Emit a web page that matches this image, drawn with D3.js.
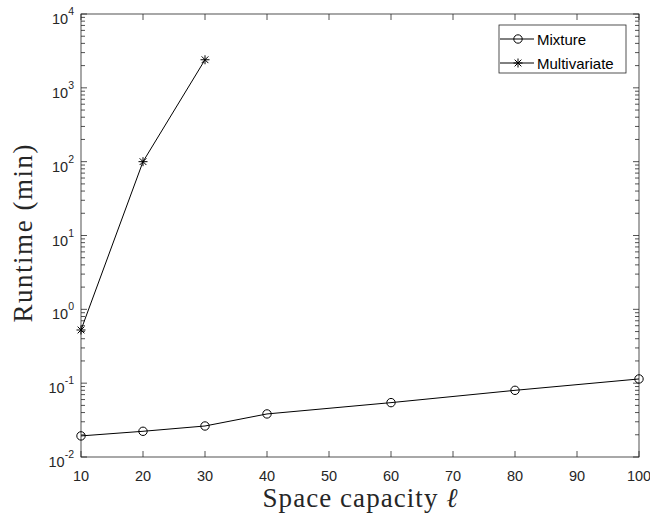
<!DOCTYPE html>
<html>
<head>
<meta charset="utf-8">
<script src="https://cdn.jsdelivr.net/npm/d3@7"></script>
<style>
  body { margin: 0; background: #fff; }
  svg { display: block; }
</style>
</head>
<body>
<div id="chart"></div>
<script>
// values
const capMixture = [10, 20, 30, 40, 60, 80, 100];
const runMixture = [0.0193, 0.0223, 0.0263, 0.0383, 0.0545, 0.080, 0.114];
const capMulti = [10, 20, 30];
const runMulti = [0.525, 100, 2400];
const xTicks = [10, 20, 30, 40, 50, 60, 70, 80, 90, 100];
const yExps = [-2, -1, 0, 1, 2, 3, 4];

const W = 650, H = 513;
const m = { left: 81, right: 11, top: 14, bottom: 56 };
const iw = W - m.left - m.right, ih = H - m.top - m.bottom;
const axisCol = '#262626';

const svg = d3.select('#chart').append('svg')
  .attr('width', W).attr('height', H);
const g = svg.append('g').attr('transform', `translate(${m.left},${m.top})`);

const x = d3.scaleLinear().domain([10, 100]).range([0, iw]);
const y = d3.scaleLog().domain([1e-2, 1e4]).range([ih, 0]);

// minor log ticks
const minor = [];
yExps.slice(0, -1).forEach(e => {
  for (let k = 2; k <= 9; k++) minor.push(k * Math.pow(10, e));
});

// ticks, inward on all four sides
const tk = g.append('g').attr('stroke', axisCol).attr('stroke-width', 0.8);
xTicks.forEach(t => {
  tk.append('line').attr('x1', x(t)).attr('x2', x(t)).attr('y1', ih).attr('y2', ih - 6);
  tk.append('line').attr('x1', x(t)).attr('x2', x(t)).attr('y1', 0).attr('y2', 6);
});
yExps.forEach(e => {
  const yy = y(Math.pow(10, e));
  tk.append('line').attr('x1', 0).attr('x2', 6).attr('y1', yy).attr('y2', yy);
  tk.append('line').attr('x1', iw).attr('x2', iw - 6).attr('y1', yy).attr('y2', yy);
});
minor.forEach(v => {
  const yy = y(v);
  tk.append('line').attr('x1', 0).attr('x2', 4).attr('y1', yy).attr('y2', yy);
  tk.append('line').attr('x1', iw).attr('x2', iw - 4).attr('y1', yy).attr('y2', yy);
});

// box
g.append('rect').attr('width', iw).attr('height', ih)
  .attr('fill', 'none').attr('stroke', axisCol).attr('stroke-width', 0.8);

// tick labels
const font = 'Liberation Sans, Arial, Helvetica, sans-serif';
g.selectAll('.xl').data(xTicks).join('text')
  .attr('x', d => x(d)).attr('y', ih + 24)
  .attr('text-anchor', 'middle').attr('font-family', font).attr('font-size', 14.5)
  .attr('fill', axisCol).text(d => d);

const yl = g.selectAll('.yl').data(yExps).join('text')
  .attr('x', -7).attr('y', d => y(Math.pow(10, d)) + 10)
  .attr('text-anchor', 'end').attr('font-family', font).attr('font-size', 14.5)
  .attr('fill', axisCol);
yl.append('tspan').text('10');
yl.append('tspan').attr('dy', -9).attr('font-size', 10.5).text(d => d);

// axis titles
const serif = 'Liberation Serif, Times New Roman, serif';
const xt = svg.append('text').attr('x', m.left + iw / 2).attr('y', 507)
  .attr('text-anchor', 'middle').attr('font-family', serif).attr('font-size', 27)
  .attr('fill', axisCol)
  .attr('textLength', 195).attr('lengthAdjust', 'spacing');
xt.append('tspan').text('Space capacity ');
xt.append('tspan').attr('font-style', 'italic').text('\u2113');

svg.append('text')
  .attr('transform', `translate(32,${m.top + ih / 2 - 2}) rotate(-90)`)
  .attr('text-anchor', 'middle').attr('font-family', serif).attr('font-size', 27)
  .attr('fill', axisCol)
  .attr('textLength', 178).attr('lengthAdjust', 'spacing')
  .text('Runtime (min)');

// lines
const line = d3.line().x(d => x(d[0])).y(d => y(d[1]));
const mixData = d3.zip(capMixture, runMixture);
const mulData = d3.zip(capMulti, runMulti);

const plot = g.append('g');
plot.append('path').datum(mixData).attr('d', line)
  .attr('fill', 'none').attr('stroke', '#000').attr('stroke-width', 1);
plot.append('path').datum(mulData).attr('d', line)
  .attr('fill', 'none').attr('stroke', '#000').attr('stroke-width', 1);

function circleMark(sel, cx, cy) {
  sel.append('circle').attr('cx', cx).attr('cy', cy).attr('r', 4.2)
    .attr('fill', 'none').attr('stroke', '#000').attr('stroke-width', 1);
}
function starMark(sel, cx, cy) {
  const r = 4.5;
  const p = sel.append('g').attr('stroke', '#000').attr('stroke-width', 1);
  p.append('line').attr('x1', cx - r).attr('x2', cx + r).attr('y1', cy).attr('y2', cy);
  p.append('line').attr('x1', cx).attr('x2', cx).attr('y1', cy - r).attr('y2', cy + r);
  const d = r * 0.75;
  p.append('line').attr('x1', cx - d).attr('x2', cx + d).attr('y1', cy - d).attr('y2', cy + d);
  p.append('line').attr('x1', cx - d).attr('x2', cx + d).attr('y1', cy + d).attr('y2', cy - d);
}
mixData.forEach(d => circleMark(plot, x(d[0]), y(d[1])));
mulData.forEach(d => starMark(plot, x(d[0]), y(d[1])));

// legend
const lg = svg.append('g').attr('transform', 'translate(499,25)');
lg.append('rect').attr('width', 127).attr('height', 48)
  .attr('fill', '#fff').attr('stroke', axisCol).attr('stroke-width', 0.8);
const items = [['Mixture', circleMark], ['Multivariate', starMark]];
items.forEach((it, i) => {
  const cy = 14 + i * 24;
  lg.append('line').attr('x1', 1).attr('x2', 35).attr('y1', cy).attr('y2', cy)
    .attr('stroke', '#000').attr('stroke-width', 1);
  it[1](lg, 19, cy);
  lg.append('text').attr('x', 38).attr('y', cy + 5.5)
    .attr('font-family', font).attr('font-size', 15).attr('fill', '#000').text(it[0]);
});
</script>
</body>
</html>
